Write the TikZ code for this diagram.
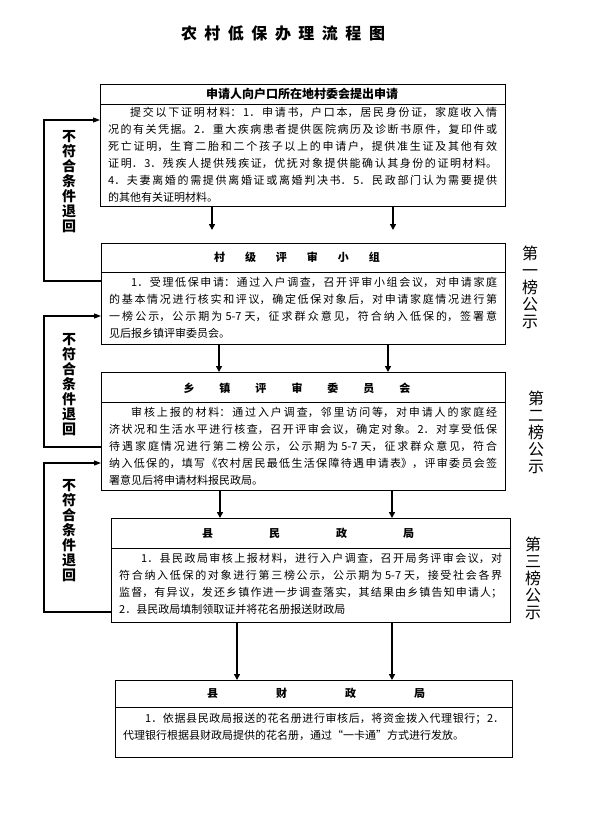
\documentclass[tikz,border=0pt]{standalone}
\usepackage{fontspec}
\setmainfont{Noto Sans CJK SC}
\usetikzlibrary{arrows.meta}
\XeTeXlinebreaklocale "zh"
\XeTeXlinebreakskip=0pt plus 4pt
\tolerance=10000
\emergencystretch=20pt
\begin{document}
\begin{tikzpicture}[x=1pt,y=-1pt,
  boxst/.style={draw, line width=1.1pt, anchor=north west, inner sep=0pt},
  sepline/.style={line width=1pt},
  headst/.style={font=\fontsize{11}{13}\selectfont\bfseries, inner sep=0pt},
  bodyst/.style={anchor=north west, inner sep=0pt, align=justify,
     font=\fontsize{11}{17}\selectfont},
  downarr/.style={line width=1.8pt, -{Triangle[length=6pt,width=6pt]}},
  backarr/.style={line width=1.1pt, -{Triangle[length=7pt,width=5pt]}},
  sidest/.style={font=\fontsize{14}{15}\selectfont\bfseries, align=center, inner sep=0pt},
  bangst/.style={font=\fontsize{16}{17}\selectfont, align=center, inner sep=0pt}
]
\useasboundingbox (0,0) rectangle (595,822);

% title
\node[font=\fontsize{16}{18}\selectfont\bfseries, inner sep=0pt] (title) at (283,33)
  {农\hspace{7.5pt}村\hspace{7.5pt}低\hspace{7.5pt}保\hspace{7.5pt}办\hspace{7.5pt}理\hspace{7.5pt}流\hspace{7.5pt}程\hspace{7.5pt}图};

% boxes
\node[boxst, minimum width=405pt, minimum height=122pt] (b1) at (100,84) {};
\node[boxst, minimum width=404pt, minimum height=101pt] (b2) at (101,243) {};
\node[boxst, minimum width=404pt, minimum height=118pt] (b3) at (101,372) {};
\node[boxst, minimum width=399pt, minimum height=104pt] (b4) at (111,518) {};
\node[boxst, minimum width=397pt, minimum height=77pt] (b5) at (115,680) {};

% header separators
\coordinate (s1) at (0,104);
\coordinate (s2) at (0,272);
\coordinate (s3) at (0,402);
\coordinate (s4) at (0,548);
\coordinate (s5) at (0,707);
\draw[sepline] (s1 -| b1.west) -- (s1 -| b1.east);
\draw[sepline] (s2 -| b2.west) -- (s2 -| b2.east);
\draw[sepline] (s3 -| b3.west) -- (s3 -| b3.east);
\draw[sepline] (s4 -| b4.west) -- (s4 -| b4.east);
\draw[sepline] (s5 -| b5.west) -- (s5 -| b5.east);

% headers
\node[headst, font=\fontsize{12}{14}\selectfont\bfseries] (h1) at (302,94) {申请人向户口所在地村委会提出申请};
\node[headst] (h2) at (297,257) {村\hspace{20pt}级\hspace{20pt}评\hspace{20pt}审\hspace{20pt}小\hspace{20pt}组};
\node[headst] (h3) at (297,388) {乡\hspace{25pt}镇\hspace{25pt}评\hspace{25pt}审\hspace{25pt}委\hspace{25pt}员\hspace{25pt}会};
\node[headst] (h4) at (308,533) {县\hspace{56pt}民\hspace{56pt}政\hspace{56pt}局};
\node[headst] (h5) at (316,693) {县\hspace{58pt}财\hspace{58pt}政\hspace{58pt}局};

% bodies
\node[bodyst, text width=389pt] (t1) at (108,107) {\hspace*{22pt}提交以下证明材料：1．申请书，户口本，居民身份证，家庭收入情\linebreak
况的有关凭据。2．重大疾病患者提供医院病历及诊断书原件，复印件或\linebreak
死亡证明，生育二胎和二个孩子以上的申请户，提供准生证及其他有效\linebreak
证明．3．残疾人提供残疾证，优抚对象提供能确认其身份的证明材料。\linebreak
4．夫妻离婚的需提供离婚证或离婚判决书．5．民政部门认为需要提供\linebreak
的其他有关证明材料。};

\node[bodyst, text width=388pt] (t2) at (109,277) {\hspace*{22pt}1．受理低保申请：通过入户调查，召开评审小组会议，对申请家庭\linebreak
的基本情况进行核实和评议，确定低保对象后，对申请家庭情况进行第\linebreak
一榜公示，公示期为 5-7 天，征求群众意见，符合纳入低保的，签署意\linebreak
见后报乡镇评审委员会。};

\node[bodyst, text width=388pt] (t3) at (109,407) {\hspace*{22pt}审核上报的材料：通过入户调查，邻里访问等，对申请人的家庭经\linebreak
济状况和生活水平进行核查，召开评审会议，确定对象。2．对享受低保\linebreak
待遇家庭情况进行第二榜公示，公示期为 5-7 天，征求群众意见，符合\linebreak
纳入低保的，填写《农村居民最低生活保障待遇申请表》，评审委员会签\linebreak
署意见后将申请材料报民政局。};

\node[bodyst, text width=383pt] (t4) at (119,553) {\hspace*{22pt}1．县民政局审核上报材料，进行入户调查，召开局务评审会议，对\linebreak
符合纳入低保的对象进行第三榜公示，公示期为 5-7 天，接受社会各界\linebreak
监督，有异议，发还乡镇作进一步调查落实，其结果由乡镇告知申请人；\linebreak
2．县民政局填制领取证并将花名册报送财政局};

\node[bodyst, text width=381pt] (t5) at (123,713) {\hspace*{22pt}1．依据县民政局报送的花名册进行审核后，将资金拨入代理银行；2．\linebreak
代理银行根据县财政局提供的花名册，通过“一卡通”方式进行发放。};

% down arrows
\coordinate (xa) at (212,0);
\coordinate (xb) at (393,0);
\coordinate (xc) at (219,0);
\coordinate (xd) at (388,0);
\coordinate (xe) at (220,0);
\coordinate (xf) at (392,0);
\coordinate (xg) at (237,0);
\coordinate (xh) at (392,0);
\draw[downarr, shorten >=13pt] (b1.south -| xa) -- (b2.north -| xa);
\draw[downarr, shorten >=13pt] (b1.south -| xb) -- (b2.north -| xb);
\draw[downarr] (b2.south -| xc) -- (b3.north -| xc);
\draw[downarr] (b2.south -| xd) -- (b3.north -| xd);
\draw[downarr] (b3.south -| xe) -- (b4.north -| xe);
\draw[downarr] (b3.south -| xf) -- (b4.north -| xf);
\draw[downarr] (b4.south -| xg) -- (b5.north -| xg);
\draw[downarr] (b4.south -| xh) -- (b5.north -| xh);

% return loops
\coordinate (L1t) at (44,120);
\coordinate (L1b) at (44,281);
\coordinate (L2t) at (44,316);
\coordinate (L2b) at (44,447);
\coordinate (L3t) at (44,463);
\coordinate (L3b) at (44,612);
\draw[backarr] (L1b -| b2.west) -- (L1b) -- (L1t) -- (L1t -| b1.west);
\draw[backarr] (L2b -| b3.west) -- (L2b) -- (L2t) -- (L2t -| b2.west);
\draw[backarr] (L3b -| b4.west) -- (L3b) -- (L3t) -- (L3t -| b3.west);

\node[sidest] (r1) at (69,182) {不\\符\\合\\条\\件\\退\\回};
\node[sidest] (r2) at (69,385) {不\\符\\合\\条\\件\\退\\回};
\node[sidest] (r3) at (69,531) {不\\符\\合\\条\\件\\退\\回};

\node[bangst] (p1) at (530,287) {第\\一\\榜\\公\\示};
\node[bangst] (p2) at (536,432) {第\\二\\榜\\公\\示};
\node[bangst] (p3) at (533,578) {第\\三\\榜\\公\\示};
\end{tikzpicture}
\end{document}
